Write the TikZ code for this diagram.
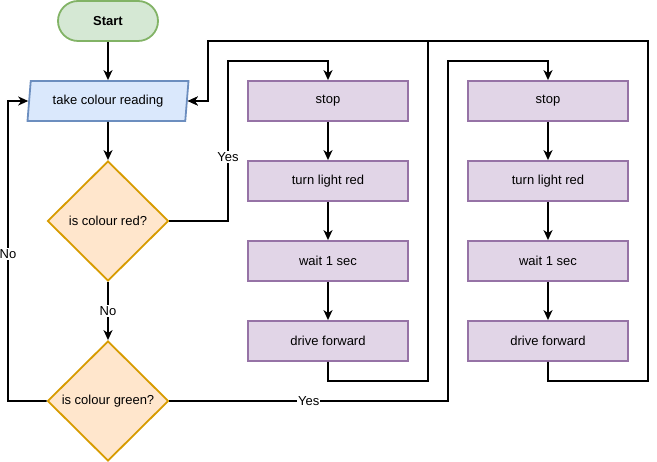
\documentclass[tikz,border=0pt]{standalone}
\usepackage{fontspec}
\setmainfont{Liberation Sans}
\usetikzlibrary{shapes.geometric,arrows.meta}
\definecolor{gfill}{HTML}{D5E8D4}\definecolor{gline}{HTML}{82B366}
\definecolor{bfill}{HTML}{DAE8FC}\definecolor{bline}{HTML}{6C8EBF}
\definecolor{ofill}{HTML}{FFE6CC}\definecolor{oline}{HTML}{D79B00}
\definecolor{pfill}{HTML}{E1D5E7}\definecolor{pline}{HTML}{9673A6}
\begin{document}
\begin{tikzpicture}[x=1pt,y=-1pt,
 base/.style={line width=1.8pt, font=\fontsize{13}{15}\selectfont, text=black, inner sep=0pt},
 term/.style={base, rectangle, rounded corners=20pt, fill=gfill, draw=gline, minimum width=100pt, minimum height=40pt, font=\fontsize{13}{15}\selectfont\bfseries},
 io/.style={base, trapezium, trapezium left angle=75, trapezium right angle=105, trapezium stretches body, fill=bfill, draw=bline, minimum width=161pt, minimum height=40pt},
 dec/.style={base, diamond, fill=ofill, draw=oline, minimum width=121pt, minimum height=120pt},
 proc/.style={base, rectangle, fill=pfill, draw=pline, minimum width=160pt, minimum height=40pt},
 conn/.style={line width=1.8pt, line join=miter, -{Stealth[length=10pt,width=9pt,inset=3pt]}, black},
 lbl/.style={fill=white, inner sep=1pt, font=\fontsize{13}{15}\selectfont}
]
\useasboundingbox (0,0) rectangle (657,462);
\node[term] (start) at (108,21) {Start};
\node[io] (take) at (108,101) {take colour reading};
\node[dec] (red) at (108,221) {is colour red?};
\node[dec] (green) at (108,401) {is colour green?};
\node[proc] (s1) at (328,101) {stop};
\node[proc] (t1) at (328,181) {turn light red};
\node[proc] (w1) at (328,261) {wait 1 sec};
\node[proc] (d1) at (328,341) {drive forward};
\node[proc] (s2) at (548,101) {stop};
\node[proc] (t2) at (548,181) {turn light red};
\node[proc] (w2) at (548,261) {wait 1 sec};
\node[proc] (d2) at (548,341) {drive forward};
\draw[conn] (start) -- (take);
\draw[conn] (take) -- (red);
\draw[conn] (red) -- node[lbl]{No} (green);
\draw[conn] (red.east) -- (228,221) -- node[lbl,pos=0.4]{Yes} (228,61) -| (s1.north);
\draw[conn] (s1) -- (t1);
\draw[conn] (t1) -- (w1);
\draw[conn] (w1) -- (d1);
\draw[conn] (d1.south) -- (328,381) -- (428,381) -- (428,41) -- (208,41) -- (208,101) -- (take.east);
\draw[conn] (green.east) -- node[lbl]{Yes} (448,401) -- (448,61) -| (s2.north);
\draw[conn] (s2) -- (t2);
\draw[conn] (t2) -- (w2);
\draw[conn] (w2) -- (d2);
\draw[conn] (d2.south) -- (548,381) -- (648,381) -- (648,41) -- (208,41) -- (208,101) -- (take.east);
\draw[conn] (green.west) -- (8,401) -- node[lbl,pos=0.49]{No} (8,101) -- (take.west);
\end{tikzpicture}
\end{document}
